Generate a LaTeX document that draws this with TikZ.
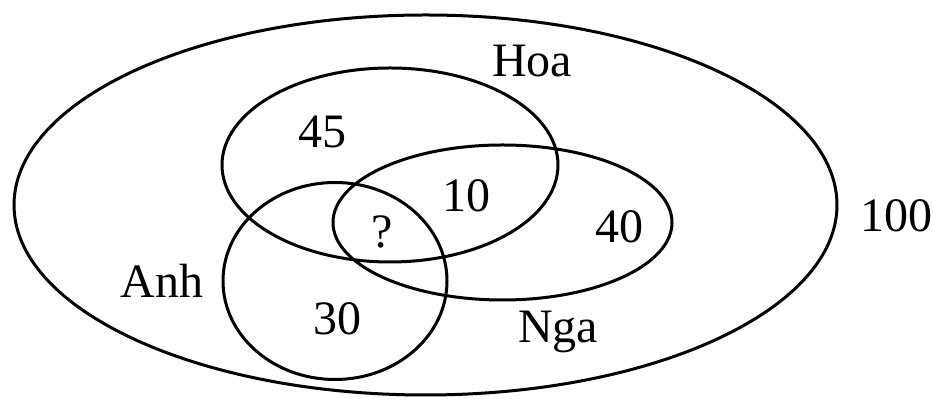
\documentclass[tikz,border=0pt]{standalone}
\usepackage{fontspec}
\setmainfont{Liberation Serif}
\usepackage{tikz}
\usetikzlibrary{shapes.geometric}
\tikzset{every picture/.style={/utils/exec={\fontsize{24}{28}\selectfont}}}
\tikzset{set/.style={ellipse, draw, inner sep=0pt}}

\begin{document}
\begin{tikzpicture}[x=0.5pt, y=-0.5pt, line width=1.5pt, every node/.style={anchor=base}]
        \useasboundingbox (0,0) rectangle (933,399);
        % Sets
        \node[set, anchor=center, minimum width=411.5pt, minimum height=190pt] (U) at (425.5, 205) {};
        \node[set, anchor=center, minimum width=168pt, minimum height=97pt] (Hoa) at (390, 165) {};
        \node[set, anchor=center, minimum width=169.5pt, minimum height=77.5pt] (Nga) at (502.5, 222.5) {};
        \node[set, anchor=center, minimum width=112pt, minimum height=98.5pt] (Anh) at (335, 281) {};

        % Labels
        \node (hoaname) at (532, 77) {Hoa};
        \node (nganame) at (558, 343) {Nga};
        \node (anhname) at (162, 298) {Anh};
        \node (total) at (896, 232) {100};

        % Counts
        \node (onlyhoa) at (322, 148) {45};
        \node (hoanga) at (466, 212) {10};
        \node (onlynga) at (619, 243) {40};
        \node (onlyanh) at (337, 335) {30};
        \node (all) at (382, 248) {?};
    \end{tikzpicture}
\end{document}
